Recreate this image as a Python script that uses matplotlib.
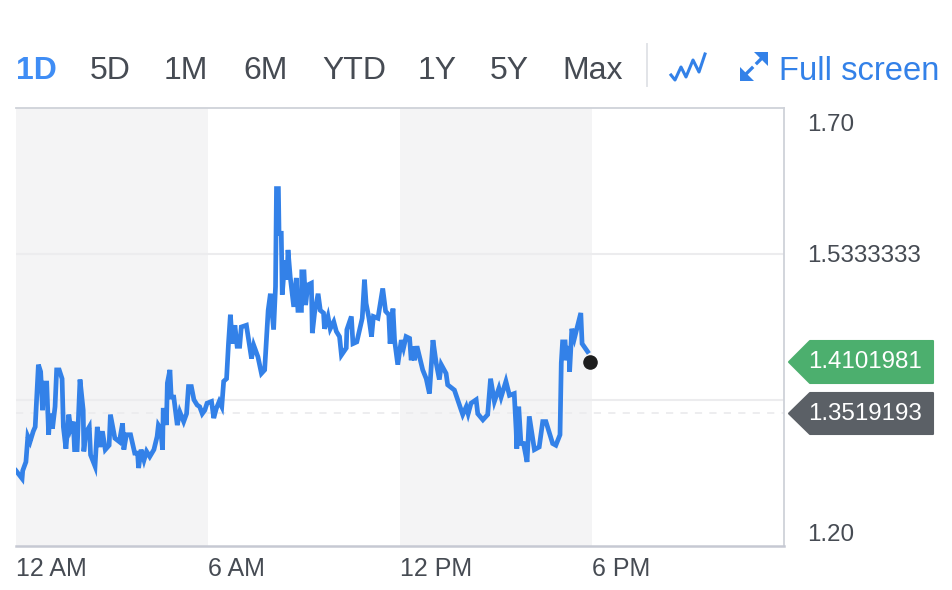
import matplotlib
matplotlib.use("Agg")
import matplotlib.pyplot as plt
from matplotlib.patches import Polygon

plt.rcParams["font.family"] = ["Liberation Sans", "DejaVu Sans"]

hours = [
    0.00, 0.19, 0.21, 0.31, 0.37, 0.44, 0.54, 0.60, 0.70, 0.77, 0.83, 0.87, 0.96, 1.02, 1.06, 1.14,
    1.22, 1.27, 1.35, 1.44, 1.48, 1.56, 1.65, 1.71, 1.79, 1.83, 1.91, 2.00, 2.10, 2.12, 2.18, 2.29,
    2.33, 2.47, 2.54, 2.62, 2.70, 2.79, 2.91, 2.95, 3.09, 3.23, 3.33, 3.37, 3.45, 3.58, 3.71, 3.80,
    3.83, 3.91, 4.00, 4.08, 4.18, 4.31, 4.41, 4.45, 4.52, 4.58, 4.60, 4.68, 4.70, 4.73, 4.81, 4.85,
    4.93, 5.04, 5.12, 5.24, 5.33, 5.39, 5.48, 5.56, 5.66, 5.74, 5.82, 5.90, 5.97, 6.11, 6.18, 6.26,
    6.35, 6.43, 6.49, 6.58, 6.64, 6.70, 6.76, 6.84, 6.91, 6.99, 7.04, 7.20, 7.36, 7.43, 7.56, 7.67,
    7.77, 7.88, 7.95, 8.05, 8.11, 8.14, 8.20, 8.22, 8.29, 8.32, 8.40, 8.47, 8.50, 8.57, 8.68, 8.76,
    8.81, 8.92, 8.93, 9.00, 9.05, 9.12, 9.23, 9.26, 9.33, 9.44, 9.51, 9.61, 9.64, 9.75, 9.82, 9.93,
    10.01, 10.11, 10.17, 10.32, 10.34, 10.48, 10.53, 10.65, 10.82, 10.89, 10.94, 11.03, 11.11, 11.17,
    11.31, 11.46, 11.55, 11.65, 11.69, 11.78, 11.83, 11.93, 12.04, 12.11, 12.19, 12.30, 12.35, 12.40,
    12.45, 12.53, 12.61, 12.71, 12.82, 12.92, 13.03, 13.13, 13.23, 13.29, 13.44, 13.49, 13.70, 13.96,
    14.07, 14.13, 14.22, 14.38, 14.43, 14.59, 14.74, 14.83, 14.95, 15.09, 15.16, 15.31, 15.42, 15.57,
    15.63, 15.65, 15.71, 15.78, 15.86, 15.97, 16.04, 16.20, 16.35, 16.46, 16.56, 16.77, 16.87, 17.00,
    17.04, 17.08, 17.16, 17.19, 17.29, 17.30, 17.37, 17.45, 17.65, 17.69, 17.86,
]
prices = [
    1.286, 1.277, 1.286, 1.296, 1.325, 1.319, 1.331, 1.336, 1.407, 1.399, 1.355, 1.386, 1.386, 1.327, 1.351, 1.334,
    1.359, 1.401, 1.401, 1.391, 1.336, 1.311, 1.350, 1.334, 1.342, 1.310, 1.310, 1.390, 1.355, 1.308, 1.329, 1.336,
    1.304, 1.291, 1.336, 1.313, 1.331, 1.310, 1.315, 1.350, 1.323, 1.319, 1.340, 1.310, 1.327, 1.327, 1.306, 1.306,
    1.289, 1.310, 1.298, 1.308, 1.302, 1.310, 1.325, 1.338, 1.334, 1.310, 1.355, 1.355, 1.338, 1.386, 1.401, 1.370,
    1.370, 1.338, 1.353, 1.342, 1.351, 1.382, 1.382, 1.367, 1.361, 1.359, 1.351, 1.355, 1.363, 1.365, 1.346, 1.357,
    1.365, 1.359, 1.388, 1.391, 1.431, 1.464, 1.431, 1.452, 1.428, 1.428, 1.450, 1.452, 1.414, 1.429, 1.416, 1.397,
    1.401, 1.469, 1.488, 1.447, 1.496, 1.608, 1.608, 1.557, 1.557, 1.487, 1.526, 1.504, 1.538, 1.507, 1.473, 1.506,
    1.469, 1.469, 1.513, 1.513, 1.475, 1.498, 1.500, 1.443, 1.466, 1.488, 1.469, 1.466, 1.448, 1.462, 1.448, 1.456,
    1.445, 1.439, 1.418, 1.426, 1.447, 1.462, 1.431, 1.433, 1.460, 1.504, 1.477, 1.460, 1.439, 1.462,
    1.460, 1.494, 1.468, 1.464, 1.431, 1.471, 1.435, 1.407, 1.435, 1.426, 1.439, 1.437, 1.412, 1.428,
    1.412, 1.428, 1.416, 1.401, 1.391, 1.374, 1.435, 1.409, 1.390, 1.407, 1.397, 1.384, 1.378, 1.350,
    1.359, 1.351, 1.363, 1.367, 1.351, 1.344, 1.350, 1.391, 1.365, 1.380, 1.370, 1.388, 1.372, 1.374,
    1.332, 1.311, 1.359, 1.317, 1.317, 1.296, 1.348, 1.310, 1.313, 1.342, 1.342, 1.317, 1.315, 1.327,
    1.409, 1.433, 1.433, 1.412, 1.428, 1.399, 1.448, 1.437, 1.466, 1.431, 1.422,
]
last_hour = 17.95
last_price = 1.4101981
prev_close = 1.3519193

range_labels = ["1D", "5D", "1M", "6M", "YTD", "1Y", "5Y", "Max"]
range_x = [16, 90, 164, 243, 322, 418, 490, 562]
x_ticks = [0, 6, 12, 18]
x_labels = ["12 AM", "6 AM", "12 PM", "6 PM"]
y_ticks = [1.70, 1.5333333, 1.20]
y_labels = ["1.70", "1.5333333", "1.20"]
y_shift = [-17, -2, 11]
grid_values = [1.5333333, 1.3666667]

W, H = 952, 590
BLUE = "#3381E8"
DARK = "#464B53"


def px(x, y):
    return x / W, 1 - y / H


fig = plt.figure(figsize=(W / 100, H / 100), dpi=100)
ax = fig.add_axes([16 / W, (H - 546) / H, 768 / W, 438 / H])
ax.set_xlim(0, 24)
ax.set_ylim(1.2, 1.7)

ax.axvspan(0, 6, color="#F4F4F5", lw=0, zorder=0)
ax.axvspan(12, 18, color="#F4F4F5", lw=0, zorder=0)
for val in grid_values:
    ax.axhline(val, color="#ECECEE", lw=1.5, zorder=1)
ax.axhline(prev_close, color="#ECECEE", lw=1.3, ls=(0, (4, 4)), zorder=1)

ax.plot(hours, prices, color=BLUE, lw=3.4, solid_joinstyle="miter", zorder=3)
ax.scatter([last_hour], [last_price], s=90, color="#1E1E1E", zorder=4, clip_on=False)

ax.spines["left"].set_visible(False)
for side in ["top", "right"]:
    ax.spines[side].set_color("#CFD2D9")
    ax.spines[side].set_linewidth(1.3)
ax.spines["bottom"].set_color("#C6C9D3")
ax.spines["bottom"].set_linewidth(1.8)

ax.set_xticks(x_ticks)
ax.set_xticklabels(x_labels, ha="left", fontsize=18, color=DARK)
ax.tick_params(axis="x", length=0, pad=8)
ax.set_yticks([])
for val, label, shift in zip(y_ticks, y_labels, y_shift):
    ax.annotate(label, xy=(1, val), xycoords=ax.get_yaxis_transform(),
                xytext=(23.5 * 0.72, shift * 0.72), textcoords="offset points",
                va="center", ha="left", fontsize=17.4, color=DARK)

# range buttons
for i, (label, x) in enumerate(zip(range_labels, range_x)):
    fig.text(*px(x, 79), label, fontsize=23, va="baseline", ha="left",
             color="#3F8DF5" if i == 0 else DARK, fontweight="bold" if i == 0 else "normal")
fig.text(*px(779, 80), "Full screen", fontsize=23.6, va="baseline", ha="left", color=BLUE)
fig.add_artist(plt.Line2D(*zip(px(647, 44), px(647, 86)), color="#E2E4E8", lw=1.4))

# chart type icon
zig = [(671, 75), (675, 80), (681, 67), (686, 77), (693, 60), (699, 72), (705, 54)]
fig.add_artist(plt.Line2D(*zip(*[px(*p) for p in zig]), color=BLUE, lw=2.2))

# full screen icon
fig.add_artist(plt.Line2D(*zip(px(745, 75), px(752, 68)), color=BLUE, lw=2.4))
fig.add_artist(plt.Line2D(*zip(px(757, 63), px(764, 56)), color=BLUE, lw=2.4))
for tri in ([(740, 81), (740, 67), (754, 81)], [(768, 52), (754, 52), (768, 66)]):
    fig.add_artist(Polygon([px(*p) for p in tri], closed=True, color=BLUE, lw=0, transform=fig.transFigure))

# price badges
for top, bot, color, text in [(341, 383, "#4CAF6E", "1.4101981"), (393, 434, "#5B6066", "1.3519193")]:
    mid = (top + bot) / 2
    pts = [(789, mid), (810, top), (933, top), (933, bot), (810, bot)]
    fig.add_artist(Polygon([px(*p) for p in pts], closed=True, facecolor=color, edgecolor=color,
                           lw=1.5, joinstyle="round", transform=fig.transFigure))
    fig.text(*px(808, mid), text, fontsize=17.4, color="white", va="center", ha="left")

fig.savefig("out.png", dpi=100)
plt.close(fig)
